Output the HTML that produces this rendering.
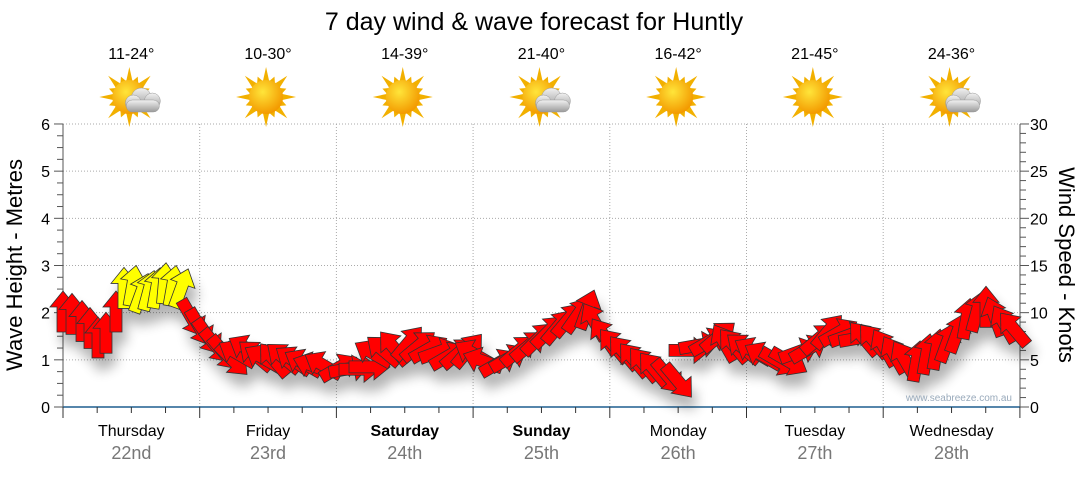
<!DOCTYPE html>
<html><head><meta charset="utf-8"><style>
body{margin:0;background:#fff;width:1080px;height:475px;overflow:hidden;font-family:"Liberation Sans","DejaVu Sans",sans-serif}
</style></head><body>
<svg id="s" width="1080" height="475" xmlns="http://www.w3.org/2000/svg" font-family="Liberation Sans, DejaVu Sans, sans-serif">
<defs>
<filter id="sh" x="-20%" y="-20%" width="140%" height="160%"><feGaussianBlur in="SourceAlpha" stdDeviation="6"/><feOffset dx="4" dy="12"/><feComponentTransfer><feFuncA type="linear" slope="0.3"/></feComponentTransfer><feMerge><feMergeNode/><feMergeNode in="SourceGraphic"/></feMerge></filter>
<radialGradient id="sun" cx="40%" cy="35%" r="65%"><stop offset="0" stop-color="#ffe53a"/><stop offset="1" stop-color="#f39a00"/></radialGradient>
<linearGradient id="cl" x1="0" y1="0" x2="0" y2="1"><stop offset="0" stop-color="#f2f2f2"/><stop offset="1" stop-color="#9a9a9a"/></linearGradient>
</defs>
<text x="534" y="30" font-size="25" text-anchor="middle" fill="#000">7 day wind &amp; wave forecast for Huntly</text>
<g id="g"></g>
<text x="1012" y="401" font-size="10" fill="#9ab" text-anchor="end">www.seabreeze.com.au</text>
<text transform="translate(22,265) rotate(-90)" font-size="22" text-anchor="middle">Wave Height - Metres</text>
<text transform="translate(1059,265) rotate(90)" font-size="22" text-anchor="middle">Wind Speed - Knots</text>
</svg>
<script>
var g=document.getElementById('g'),h='';
var X0=63,DW=136.7,Y0=407,PM=47.17;
for(var i=1;i<=6;i++){var y=Y0-i*PM;h+='<line x1="63" x2="1020" y1="'+y+'" y2="'+y+'" stroke="#aaa" stroke-dasharray="1,2"/>';}
for(var d=1;d<7;d++){var x=X0+d*DW;h+='<line x1="'+x+'" x2="'+x+'" y1="124" y2="407" stroke="#aaa" stroke-dasharray="1,2"/>';}
h+='<line x1="63" x2="63" y1="124" y2="407" stroke="#555"/><line x1="1020" x2="1020" y1="124" y2="407" stroke="#555"/>';
h+='<line x1="63" x2="1020" y1="407" y2="407" stroke="#1f5f8f" stroke-width="1.5"/>';
for(var i=0;i<=24;i++){var y=Y0-i*PM/4,l=i%4?6:9;h+='<line x1="'+(63-l)+'" x2="63" y1="'+y+'" y2="'+y+'" stroke="#555"/>';}
for(var i=0;i<=30;i++){var y=Y0-i*PM/5,l=i%5?6:9;h+='<line x1="1020" x2="'+(1020+l)+'" y1="'+y+'" y2="'+y+'" stroke="#555"/>';}
for(var i=0;i<=6;i++){var y=Y0-i*PM;h+='<text x="50" y="'+(y+6)+'" font-size="16" text-anchor="end">'+i+'</text><text x="1030" y="'+(y+6)+'" font-size="16">'+(i*5)+'</text>';}
for(var i=0;i<=28;i++){var x=X0+i*DW/4;h+='<line x1="'+x+'" x2="'+x+'" y1="407" y2="'+(i%4?413:418)+'" stroke="#333"/>';}
var days=[["Thursday","22nd"],["Friday","23rd"],["Saturday","24th",1],["Sunday","25th",1],["Monday","26th"],["Tuesday","27th"],["Wednesday","28th"]];
var temps=["11-24°","10-30°","14-39°","21-40°","16-42°","21-45°","24-36°"],cloud=[1,0,0,1,0,0,1];
for(var d=0;d<7;d++){var cx=X0+d*DW+DW/2;
h+='<text x="'+cx+'" y="436" font-size="16" text-anchor="middle"'+(days[d][2]?' font-weight="bold"':'')+'>'+days[d][0]+'</text>';
h+='<text x="'+cx+'" y="459" font-size="18" fill="#777" text-anchor="middle">'+days[d][1]+'</text>';
h+='<text x="'+cx+'" y="59" font-size="16" text-anchor="middle">'+temps[d]+'</text>';
var sy=97,sx=cx-2;
for(var k=0;k<16;k++){var a=k*Math.PI/8,r=k%2?22:30;h+='<polygon points="'+(sx+Math.cos(a)*r)+','+(sy+Math.sin(a)*r)+' '+(sx+Math.cos(a+0.2)*16)+','+(sy+Math.sin(a+0.2)*16)+' '+(sx+Math.cos(a-0.2)*16)+','+(sy+Math.sin(a-0.2)*16)+'" fill="#f2b000"/>';}
h+='<circle cx="'+sx+'" cy="'+sy+'" r="17" fill="url(#sun)"/>';
if(cloud[d])h+='<g fill="url(#cl)" stroke="#999" stroke-width=".5"><circle cx="'+(sx+12)+'" cy="'+(sy+1)+'" r="10"/><circle cx="'+(sx+23)+'" cy="'+(sy+4)+'" r="8"/><circle cx="'+(sx+4)+'" cy="'+(sy+6)+'" r="8"/><rect x="'+(sx-3)+'" y="'+(sy+3)+'" width="33" height="12" rx="6"/></g>';
}
var pts=[[63,1.95,0],[72,1.9,0],[82,1.75,0],[90,1.6,0],[98,1.4,0],[106,1.5,0],[116,1.95,0],[124,2.45,0],[132,2.5,10],[140,2.35,20],[148,2.4,15],[156,2.45,10],[164,2.55,5],[172,2.5,10],[180,2.45,20],[190,1.95,150],[198,1.75,150],[206,1.55,145],[214,1.35,140],[222,1.2,140],[230,1.05,135],[240,1.1,300],[250,1.2,300],[258,1.05,310],[266,1.0,300],[276,0.95,320],[286,1.0,310],[296,0.95,305],[306,0.9,300],[316,0.85,290],[326,0.85,300],[336,0.8,60],[346,0.8,80],[356,0.8,90],[366,0.85,90],[376,1.1,300],[386,1.15,310],[396,1.2,320],[406,1.3,40],[416,1.25,50],[426,1.2,60],[436,1.15,70],[446,1.05,60],[456,1.1,50],[466,1.15,40],[476,1.1,300],[486,0.95,290],[496,0.9,60],[506,1.0,60],[516,1.15,50],[526,1.25,50],[536,1.4,45],[546,1.55,45],[556,1.65,40],[566,1.8,40],[576,1.9,35],[586,2.0,20],[596,1.75,330],[606,1.45,325],[616,1.25,320],[626,1.1,320],[636,0.95,320],[646,0.85,320],[656,0.75,320],[666,0.7,140],[676,0.6,140],[686,1.2,90],[696,1.3,80],[706,1.35,60],[716,1.45,50],[726,1.3,330],[736,1.25,320],[746,1.2,310],[756,1.15,300],[766,1.05,300],[776,1.0,120],[786,1.0,120],[796,1.15,70],[806,1.2,60],[816,1.4,50],[826,1.55,40],[836,1.55,60],[846,1.5,70],[856,1.45,80],[866,1.4,320],[876,1.35,320],[886,1.2,330],[896,1.05,330],[906,0.95,330],[916,0.9,10],[926,1.05,10],[936,1.15,10],[946,1.3,20],[956,1.5,20],[966,1.8,10],[976,1.95,15],[986,2.05,0],[996,1.85,340],[1006,1.7,330],[1016,1.6,320]];
var ar='';
pts.forEach(function(p){var x=p[0],y=Y0-p[1]*PM,c=(x>=118&&x<=182)?'#ffff00':'#ff0000';
ar+='<polygon transform="translate('+x+','+y+') rotate('+p[2]+')" points="0,-24 13,-8 6,-8 6,17 -6,17 -6,-8 -13,-8" fill="'+c+'" stroke="#333" stroke-width=".8"/>';});
h+='<g filter="url(#sh)">'+ar+'</g>';
g.innerHTML=h;
</script>
</body></html>
